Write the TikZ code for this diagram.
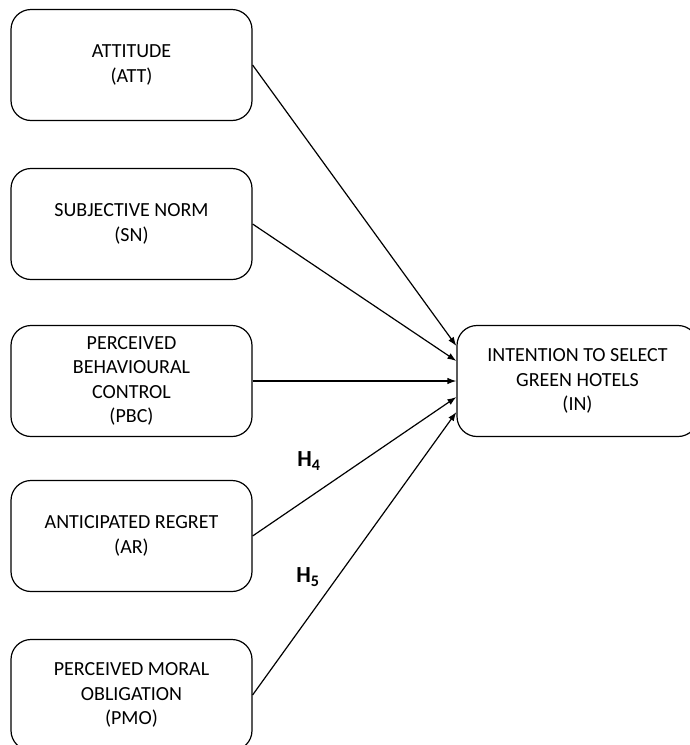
\documentclass[tikz,border=0pt]{standalone}
\usepackage{fontspec}
\setmainfont{Carlito}
\usepackage{tikz}
\usetikzlibrary{arrows.meta}
\tikzset{
	factor/.style={draw, line width=1.2pt, rounded corners=20pt, minimum width=241pt, minimum height=111pt, align=center, inner sep=0pt, font=\fontsize{20}{24.5}\selectfont},
	hyp/.style={font=\fontsize{23}{26}\selectfont\bfseries}
}
\newcommand{\hlabel}[1]{H\textsubscript{#1}}

\begin{document}
\begin{tikzpicture}[x=1pt, y=-1pt, >={Latex[length=9pt,width=6.5pt]}]
	\useasboundingbox (0,0) rectangle (690,745);
	\clip (0,0) rectangle (690,745);
	%predictors
	\node[factor] (att) at (131.5,65) {ATTITUDE\\(ATT)};
	\node[factor] (sn) at (131.5,224) {SUBJECTIVE NORM\\(SN)};
	\node[factor] (pbc) at (131.5,381) {PERCEIVED\\BEHAVIOURAL\\CONTROL\\(PBC)};
	\node[factor] (ar) at (131.5,536) {ANTICIPATED REGRET\\(AR)};
	\node[factor] (pmo) at (131.5,695) {PERCEIVED MORAL\\OBLIGATION\\(PMO)};
	%outcome
	\node[factor] (in) at (577.5,381) {INTENTION TO SELECT\\GREEN HOTELS\\(IN)};
	%paths
	\foreach \src/\dy in {att/35, sn/20, pbc/0, ar/-16, pmo/-31}
		\draw[->, line width=1.2pt] (\src.east) -- ([yshift=\dy pt]in.west);
	%hypothesis labels
	\node[hyp] (h4) at (309,461) {\hlabel{4}};
	\node[hyp] (h5) at (308,577) {\hlabel{5}};
\end{tikzpicture}
\end{document}
